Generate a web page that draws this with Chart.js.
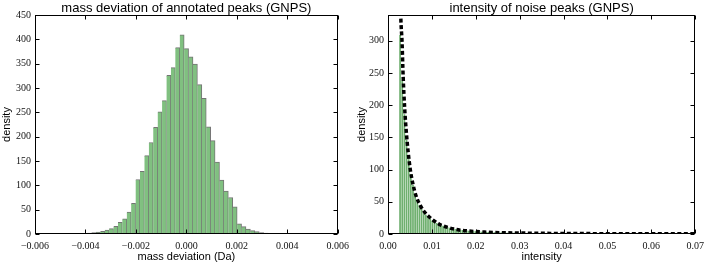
<!DOCTYPE html>
<html>
<head>
<meta charset="utf-8">
<script src="https://cdn.jsdelivr.net/npm/chart.js@4.4.0/dist/chart.umd.min.js"></script>
<style>
  html, body { margin: 0; padding: 0; background: #fff; }
  #wrap { position: relative; width: 710px; height: 263px; overflow: hidden; }
  #wrap canvas { position: absolute; top: 0; }
</style>
</head>
<body>
<div id="wrap">
  <canvas id="left" width="355" height="263" style="left:0"></canvas>
  <canvas id="right" width="355" height="263" style="left:355px"></canvas>
</div>
<script>
// ---------- data: left panel (mass deviation histogram) ----------
const massBinStart = -0.00595;   // centre of first bin (Da)
const massBinWidth = 0.000175;   // bin width (Da)
const massCounts = [
  0.8, 1.0, 0.6, 0.9, 1.0, 1.3, 1.0, 1.4, 1.2, 1.6, 1.4,
  1.6, 2.0, 3, 4, 5.5, 8, 11, 16, 24, 31, 45, 63,
  112, 129, 161, 188, 219, 251, 274, 326, 342, 383, 409,
  381, 364, 349, 307, 279, 220, 192, 148, 111, 88, 75, 56,
  21, 15, 10, 7, 5, 3, 2, 1.5, 1.2, 1.0, 0.9, 0.8, 0.9, 0.7,
  0.6, 0.7, 0.6, 0.5, 0.6, 0.5
];
const massXTicks = [-0.006, -0.004, -0.002, 0, 0.002, 0.004, 0.006];
const massYTicks = [0, 50, 100, 150, 200, 250, 300, 350, 400, 450];

// ---------- data: right panel (noise intensity histogram + fit) ----------
const noiseBinStart = 0.00275;   // centre of first bin
const noiseBinWidth = 0.00049;
const noiseCounts = [
  309, 238, 186, 146, 116, 93, 76, 63, 53, 45,
  39, 34, 30, 26.5, 23.5, 21, 19, 17, 15.5, 14,
  12.8, 11.6, 10.7, 9.8, 9.0, 8.3, 7.7, 7.1, 6.6, 6.2,
  5.8, 5.4, 5.0, 4.7, 4.4, 4.2, 3.9, 3.7, 3.5, 3.3,
  3.1, 3.0, 2.8, 2.7, 2.6, 2.4, 2.3, 2.2, 2.1, 2.0,
  1.95, 1.9, 1.8, 1.75, 1.7, 1.6, 1.55, 1.5, 1.45, 1.4,
  1.35, 1.3, 1.28, 1.25, 1.2, 1.17, 1.14, 1.1, 1.08, 1.05,
  1.02, 1.0, 0.97, 0.95, 0.93, 0.9, 0.88, 0.86, 0.84, 0.82,
  0.8, 0.78, 0.77, 0.75, 0.74, 0.72, 0.7, 0.69, 0.68, 0.66,
  0.65, 0.64, 0.63, 0.62, 0.6, 0.59, 0.58, 0.57, 0.56, 0.55,
  0.54, 0.53, 0.52, 0.52, 0.51, 0.5, 0.49, 0.48, 0.48, 0.47,
  0.46, 0.45, 0.45, 0.44, 0.43, 0.43, 0.42, 0.41, 0.41, 0.4,
  0.4, 0.39, 0.38, 0.38, 0.37, 0.37, 0.36, 0.36, 0.35, 0.35,
  0.34, 0.34, 0.33, 0.33, 0.32, 0.32, 0.31, 0.31
];
const fitX = [0.0028, 0.0029, 0.0032, 0.00345, 0.0038, 0.0042, 0.0046, 0.0051, 0.0057, 0.0064,
              0.0073, 0.0081, 0.0091, 0.0101, 0.0117, 0.0140, 0.0160, 0.0185, 0.0220, 0.0260,
              0.0300, 0.0350, 0.0400, 0.0500, 0.0600, 0.0700];
const fitY = [375, 340, 298, 245, 195, 156, 127, 99, 77, 59,
              45, 36, 28.5, 22.5, 15, 9.5, 6.5, 4.6, 3.0, 2.0,
              1.5, 1.1, 0.8, 0.5, 0.35, 0.25];
const noiseXTicks = [0, 0.01, 0.02, 0.03, 0.04, 0.05, 0.06, 0.07];
const noiseYTicks = [0, 50, 100, 150, 200, 250, 300];

// ---------- helpers ----------
const SANS = '"Liberation Sans", Arial, sans-serif';
const SERIF = '"Liberation Serif", "Times New Roman", serif';
const GREEN = 'rgb(128,192,128)';

const framePlugin = {
  id: 'frame',
  afterDatasetsDraw(chart, args, opts) {
    const { ctx, chartArea: a, scales } = chart;
    ctx.save();
    ctx.strokeStyle = '#000';
    ctx.lineWidth = 1;
    const L = Math.round(a.left) + 0.5, R = Math.round(a.right) - 0.5;
    const T = Math.round(a.top) + 0.5, B = Math.round(a.bottom) - 0.5;
    ctx.beginPath();
    scales.x.ticks.forEach(t => {
      const px = Math.round(scales.x.getPixelForValue(t.value)) + 0.5;
      ctx.moveTo(px, B); ctx.lineTo(px, B - 4);
      ctx.moveTo(px, T); ctx.lineTo(px, T + 4);
    });
    scales.y.ticks.forEach(t => {
      const py = Math.round(scales.y.getPixelForValue(t.value)) + 0.5;
      ctx.moveTo(L, py); ctx.lineTo(L + 4, py);
      ctx.moveTo(R, py); ctx.lineTo(R - 4, py);
    });
    ctx.stroke();
    ctx.strokeRect(L, T, R - L, B - T);
    ctx.fillStyle = '#000';
    ctx.font = '13px ' + SANS;
    ctx.textAlign = 'center';
    ctx.textBaseline = 'alphabetic';
    ctx.fillText(opts.text, (a.left + a.right) / 2, 12);
    ctx.restore();
  }
};

function fmtMinus(v, digits) {
  const s = Math.abs(v).toFixed(digits);
  return (v < -1e-12 ? '\u2212' : '') + s;
}

function makeOptions(cfg) {
  return {
    responsive: false,
    animation: false,
    layout: { padding: { top: 15, right: cfg.padRight, bottom: 0, left: 0 }, autoPadding: false },
    plugins: {
      legend: { display: false },
      tooltip: { enabled: false },
      frame: { text: cfg.title }
    },
    scales: {
      x: {
        type: 'linear',
        offset: false,
        min: cfg.xMin, max: cfg.xMax,
        grid: { display: false, drawTicks: false },
        border: { display: false },
        afterBuildTicks: s => { s.ticks = cfg.xTicks.map(v => ({ value: v })); },
        afterFit: s => { s.height = 29; },
        ticks: {
          autoSkip: false, maxRotation: 0, minRotation: 0, padding: 6,
          color: '#111', font: { family: SERIF, size: 10 },
          callback: v => fmtMinus(v, cfg.xDigits)
        },
        title: {
          display: true, text: cfg.xTitle, color: '#000',
          font: { family: SANS, size: 11 }, padding: { top: 0, bottom: -1 }
        }
      },
      y: {
        type: 'linear',
        min: 0, max: cfg.yMax,
        grid: { display: false, drawTicks: false },
        border: { display: false },
        afterBuildTicks: s => { s.ticks = cfg.yTicks.map(v => ({ value: v })); },
        afterFit: s => { s.width = cfg.yWidth; },
        ticks: {
          padding: 4, color: '#111', font: { family: SERIF, size: 10 },
          callback: v => String(v)
        },
        title: {
          display: true, text: 'density', color: '#000',
          font: { family: SANS, size: 11 }, padding: { top: 0, bottom: 0 }
        }
      }
    }
  };
}

// ---------- left chart ----------
new Chart(document.getElementById('left'), {
  type: 'bar',
  data: {
    datasets: [{
      data: massCounts.map((c, i) => ({ x: massBinStart + i * massBinWidth, y: c })),
      backgroundColor: GREEN,
      borderColor: 'rgba(70,70,70,0.75)',
      borderWidth: { top: 1, right: 1, left: 0, bottom: 0 },
      borderSkipped: false,
      barPercentage: 1, categoryPercentage: 1
    }]
  },
  options: makeOptions({
    title: 'mass deviation of annotated peaks (GNPS)',
    xTitle: 'mass deviation (Da)',
    xMin: -0.006, xMax: 0.006, xTicks: massXTicks, xDigits: 3,
    yMax: 450, yTicks: massYTicks, yWidth: 35, padRight: 12
  }),
  plugins: [framePlugin]
});

// ---------- right chart ----------
new Chart(document.getElementById('right'), {
  type: 'bar',
  data: {
    datasets: [{
      type: 'line',
      order: 0,
      data: fitX.map((x, i) => ({ x: x, y: fitY[i] })),
      borderColor: '#000',
      borderWidth: 3.5,
      borderDash: [4, 2.5],
      borderCapStyle: 'butt',
      pointRadius: 0,
      fill: false,
      cubicInterpolationMode: 'monotone',
      clip: 0
    }, {
      type: 'bar',
      order: 1,
      data: noiseCounts.map((c, i) => ({ x: noiseBinStart + i * noiseBinWidth, y: c })),
      backgroundColor: 'rgb(110,175,110)',
      borderWidth: 0,
      barPercentage: 0.8, categoryPercentage: 1
    }]
  },
  options: makeOptions({
    title: 'intensity of noise peaks (GNPS)',
    xTitle: 'intensity',
    xMin: 0, xMax: 0.07, xTicks: noiseXTicks, xDigits: 2,
    yMax: 340, yTicks: noiseYTicks, yWidth: 33, padRight: 11
  }),
  plugins: [framePlugin]
});
</script>
</body>
</html>
